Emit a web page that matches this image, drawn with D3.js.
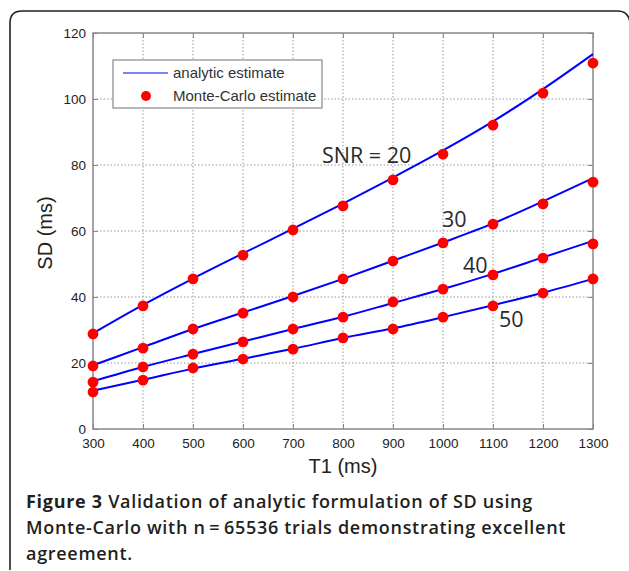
<!DOCTYPE html>
<html>
<head>
<meta charset="utf-8">
<script src="https://cdn.jsdelivr.net/npm/d3@7"></script>
<style>
  body { margin: 0; background: #fff; }
  svg { display: block; }
</style>
</head>
<body>
<div class="container"></div>
<script>
// T1 values (ms) shared by every curve
const t1Values = [300, 400, 500, 600, 700, 800, 900, 1000, 1100, 1200, 1300];

// SNR levels, one curve each
const snrLabels = ["SNR = 20", "30", "40", "50"];

// analytic estimate of SD (ms)
const analytic20 = [29, 37.6, 45.6, 53.2, 60.7, 68.3, 76.2, 84.4, 93.2, 103, 113.6];
const analytic30 = [19.3, 24.8, 30.3, 35.3, 40.3, 45.5, 51, 56.5, 62.3, 69, 76];
const analytic40 = [14.5, 18.8, 22.7, 26.5, 30.3, 34, 38.2, 42.4, 47, 52, 57];
const analytic50 = [11.6, 14.9, 18.3, 21.3, 24.3, 27.6, 30.5, 33.9, 37.5, 41.3, 45.5];

// Monte-Carlo estimate of SD (ms)
const monteCarlo20 = [28.8, 37.3, 45.5, 52.7, 60.3, 67.6, 75.5, 83.3, 92.1, 101.8, 110.9];
const monteCarlo30 = [19.1, 24.5, 30.3, 35.1, 40, 45.5, 50.9, 56.4, 62.1, 68.2, 74.8];
const monteCarlo40 = [14.2, 18.8, 22.7, 26.4, 30.3, 33.9, 38.5, 42.4, 46.7, 51.8, 56.1];
const monteCarlo50 = [11.2, 14.8, 18.5, 21.2, 24.2, 27.6, 30.3, 33.9, 37.3, 41.2, 45.5];

// axis ticks
const xTicks = [300, 400, 500, 600, 700, 800, 900, 1000, 1100, 1200, 1300];
const yTicks = [0, 20, 40, 60, 80, 100, 120];

// caption lines
const captionLines = [
  [["Figure 3", true], [" Validation of analytic formulation of SD using", false]],
  [["Monte-Carlo with n\u2009=\u200965536 trials demonstrating excellent", false]],
  [["agreement.", false]]
];

const analyticSeries = [analytic20, analytic30, analytic40, analytic50];
const monteCarloSeries = [monteCarlo20, monteCarlo30, monteCarlo40, monteCarlo50];

const W = 629, H = 571;
const margin = { top: 33, right: 36, bottom: 142, left: 93 };
const width = W - margin.left - margin.right;
const height = H - margin.top - margin.bottom;

const svg = d3.select(".container")
  .append("svg")
  .attr("width", W)
  .attr("height", H);

// figure frame, rounded at the top, running off the bottom and the right
svg.append("path")
  .attr("d", `M10,570 L10,23 Q10,11 22,11 L618,11 Q628,11 630,22 L630,571`)
  .attr("fill", "none")
  .attr("stroke", "#222")
  .attr("stroke-width", 1.6);

const canvas = svg.append("g")
  .attr("transform", `translate(${margin.left}, ${margin.top})`);

const xScale = d3.scaleLinear()
  .domain([300, 1300])
  .range([0, width]);

const yScale = d3.scaleLinear()
  .domain([0, 120])
  .range([height, 0]);

// dotted grid
canvas.append("g")
  .selectAll("line")
  .data(xTicks.slice(1, -1))
  .join("line")
  .attr("x1", d => xScale(d))
  .attr("x2", d => xScale(d))
  .attr("y1", 0)
  .attr("y2", height)
  .attr("stroke", "#999")
  .attr("stroke-dasharray", "1.5,2");

canvas.append("g")
  .selectAll("line")
  .data(yTicks.slice(1, -1))
  .join("line")
  .attr("x1", 0)
  .attr("x2", width)
  .attr("y1", d => yScale(d))
  .attr("y2", d => yScale(d))
  .attr("stroke", "#999")
  .attr("stroke-dasharray", "1.5,2");

// axes, ticks pointing inward
const xAxis = d3.axisBottom(xScale).tickValues(xTicks).tickFormat(d3.format("d")).tickSize(-5).tickPadding(9);
const yAxis = d3.axisLeft(yScale).tickValues(yTicks).tickSize(-5).tickPadding(7);

const gx = canvas.append("g")
  .attr("transform", `translate(0, ${height})`)
  .call(xAxis);

const gy = canvas.append("g")
  .call(yAxis);

[gx, gy].forEach(g => {
  g.select(".domain").remove();
  g.selectAll("line").attr("stroke", "#888");
  g.selectAll("text")
    .attr("fill", "#222")
    .style("font-family", "'Liberation Sans', Arial, sans-serif")
    .style("font-size", "13.5px");
});

// top and right ticks like the left and bottom ones
canvas.append("g")
  .call(d3.axisTop(xScale).tickValues(xTicks).tickSize(-5).tickFormat(""))
  .call(g => g.select(".domain").remove())
  .selectAll("line").attr("stroke", "#888");

canvas.append("g")
  .attr("transform", `translate(${width}, 0)`)
  .call(d3.axisRight(yScale).tickValues(yTicks).tickSize(-5).tickFormat(""))
  .call(g => g.select(".domain").remove())
  .selectAll("line").attr("stroke", "#888");

// box round the plot
canvas.append("rect")
  .attr("width", width)
  .attr("height", height)
  .attr("fill", "none")
  .attr("stroke", "#888")
  .attr("stroke-width", 1.5);

// analytic curves
const line = d3.line()
  .x((d, i) => xScale(t1Values[i]))
  .y(d => yScale(d))
  .curve(d3.curveMonotoneX);

canvas.append("g")
  .selectAll("path")
  .data(analyticSeries)
  .join("path")
  .attr("d", line)
  .attr("fill", "none")
  .attr("stroke", "#0000ff")
  .attr("stroke-width", 2);

// Monte-Carlo dots
canvas.append("g")
  .selectAll("g")
  .data(monteCarloSeries)
  .join("g")
  .selectAll("circle")
  .data(d => d)
  .join("circle")
  .attr("cx", (d, i) => xScale(t1Values[i]))
  .attr("cy", d => yScale(d))
  .attr("r", 5.4)
  .attr("fill", "#ff0000");

// SNR labels next to the curves
const labelPos = [[758, 80.5], [998, 61.3], [1040, 47.4], [1112, 30.8]];
canvas.append("g")
  .selectAll("text")
  .data(snrLabels)
  .join("text")
  .attr("x", (d, i) => xScale(labelPos[i][0]))
  .attr("y", (d, i) => yScale(labelPos[i][1]))
  .attr("fill", "#2a2a2a")
  .style("font-family", "'Open Sans', sans-serif")
  .style("font-size", "21.5px")
  .text(d => d);

// legend
const legend = canvas.append("g")
  .attr("transform", "translate(20, 27)");

legend.append("rect")
  .attr("width", 209)
  .attr("height", 48)
  .attr("fill", "#fff")
  .attr("stroke", "#888")
  .attr("stroke-width", 1.2);

legend.append("line")
  .attr("x1", 10).attr("x2", 55)
  .attr("y1", 13).attr("y2", 13)
  .attr("stroke", "#8080ff")
  .attr("stroke-width", 2);

legend.append("circle")
  .attr("cx", 33)
  .attr("cy", 36)
  .attr("r", 5)
  .attr("fill", "#ff0000");

legend.selectAll("text")
  .data(["analytic estimate", "Monte-Carlo estimate"])
  .join("text")
  .attr("x", 60)
  .attr("y", (d, i) => 18 + i * 23)
  .attr("fill", "#333")
  .style("font-family", "'Liberation Sans', Arial, sans-serif")
  .style("font-size", "15px")
  .text(d => d);

// axis titles
svg.append("text")
  .attr("x", margin.left + width / 2)
  .attr("y", 473)
  .attr("text-anchor", "middle")
  .attr("fill", "#222")
  .style("font-family", "'Liberation Sans', Arial, sans-serif")
  .style("font-size", "20px")
  .text("T1 (ms)");

svg.append("text")
  .attr("transform", "translate(52, 233) rotate(-90)")
  .attr("text-anchor", "middle")
  .attr("fill", "#222")
  .style("font-family", "'Liberation Sans', Arial, sans-serif")
  .style("font-size", "20px")
  .text("SD (ms)");

// caption
const caption = svg.append("text")
  .attr("fill", "#231f20")
  .style("font-family", "'Open Sans', sans-serif")
  .style("font-size", "18px")
  .style("font-weight", 600)
  .style("letter-spacing", "0.7px");

captionLines.forEach((parts, i) => {
  parts.forEach(([txt, bold], j) => {
    const ts = caption.append("tspan").text(txt);
    if (j === 0) ts.attr("x", 26).attr("y", 508 + i * 26);
    if (bold) ts.style("font-weight", 700);
  });
});
</script>
</body>
</html>
